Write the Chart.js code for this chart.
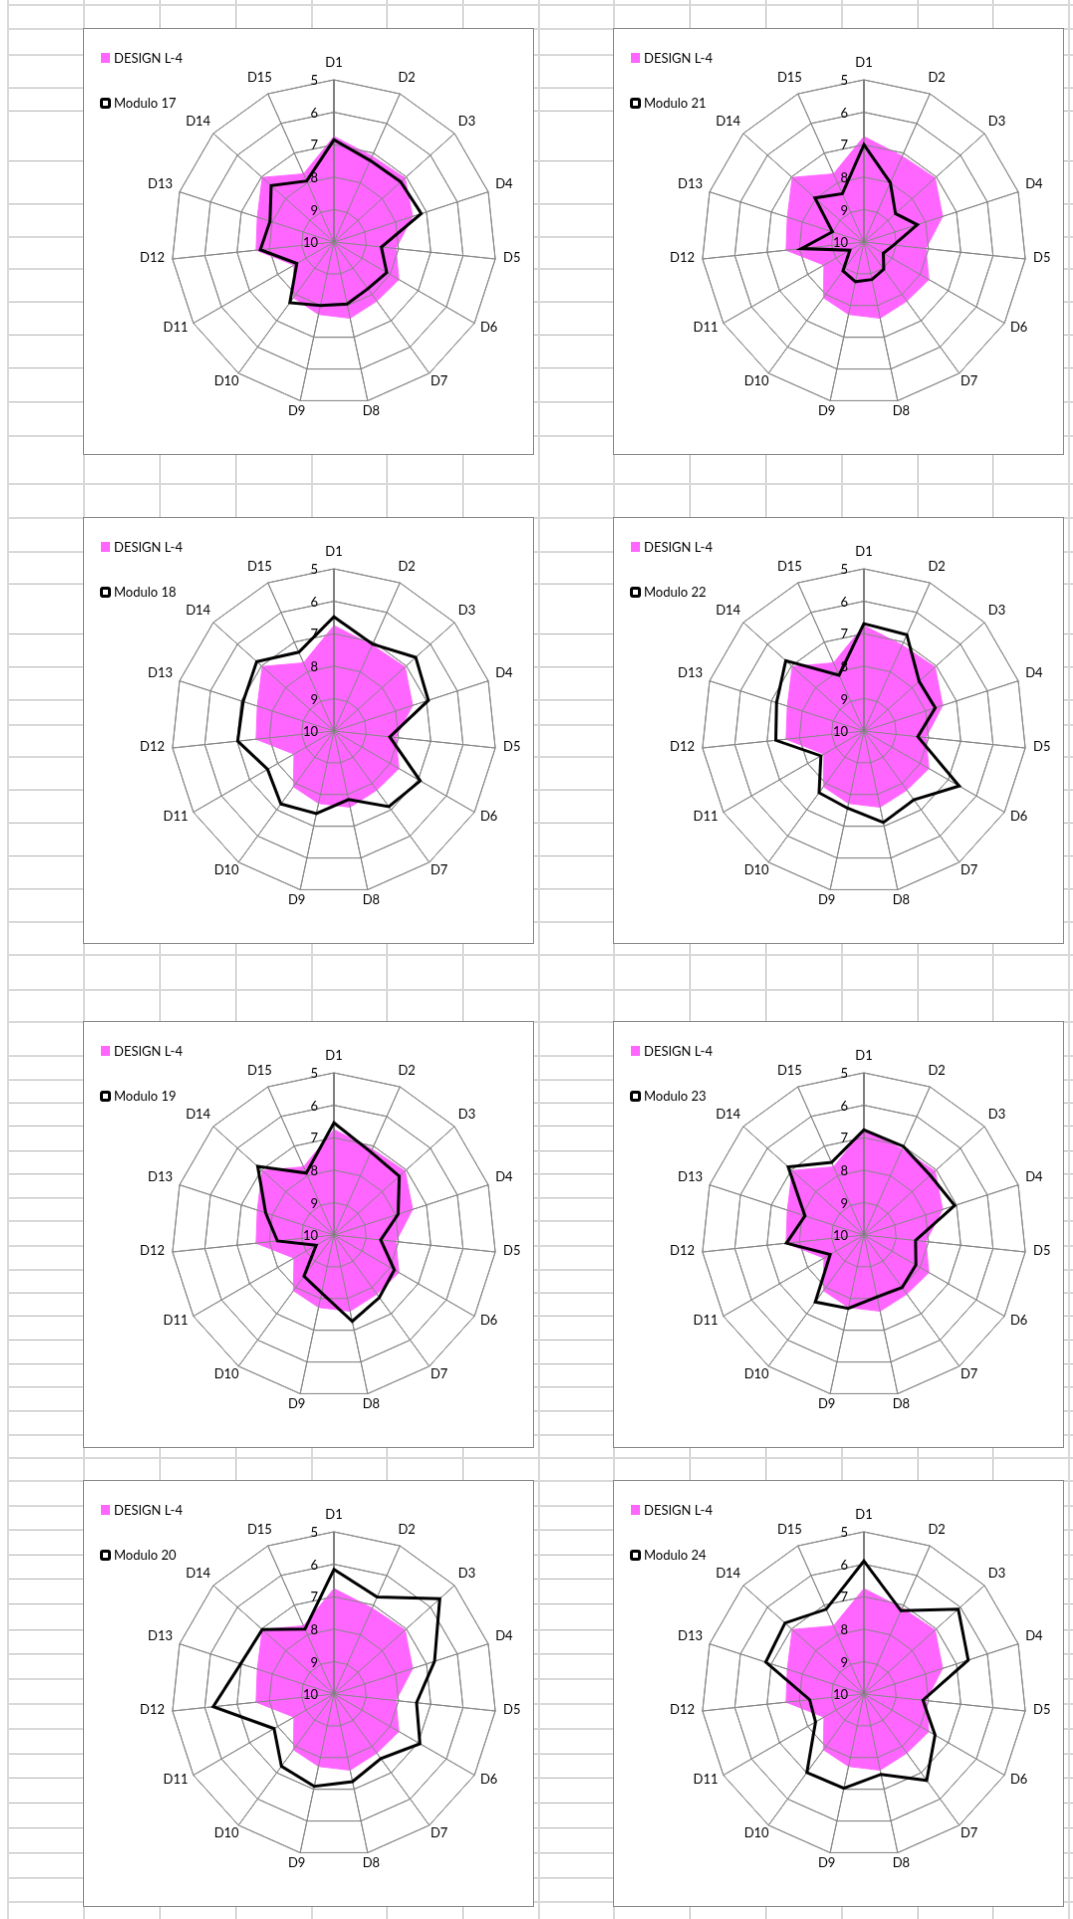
<!DOCTYPE html>
<html>
<head>
<meta charset="utf-8">
<script src="https://cdn.jsdelivr.net/npm/chart.js@4.4.1/dist/chart.umd.min.js"></script>
<style>
  html, body { margin: 0; padding: 0; background: #fff; }
  body { width: 1073px; height: 1919px; position: relative; overflow: hidden; }
  #sheet { position: absolute; left: 0; top: 0; }
  .panel { position: absolute; background: #fff; border: 1px solid #888; }
</style>
</head>
<body>
<canvas id="sheet" width="1073" height="1919"></canvas>
<script>
  /* ========================================================
     DATA (scale runs 5 at the rim down to 10 in the middle)
     ======================================================== */
  const categories = ['D1', 'D2', 'D3', 'D4', 'D5', 'D6', 'D7', 'D8', 'D9', 'D10', 'D11', 'D12', 'D13', 'D14', 'D15'];

  const designL4 = [6.75, 7.1, 7.05, 7.45, 8.08, 7.69, 7.75, 7.6, 7.72, 7.88, 8.58, 7.59, 7.52, 7.03, 7.7];

  const modulo17 = [6.85, 7.25, 7.23, 7.17, 8.53, 8.12, 8.22, 8.05, 8.0, 7.69, 8.68, 7.72, 7.93, 7.4, 7.94];
  const modulo18 = [6.48, 7.07, 6.61, 6.94, 8.27, 6.93, 7.12, 7.84, 7.4, 7.22, 7.64, 7.02, 7.06, 6.8, 7.34];
  const modulo19 = [6.54, 7.2, 7.29, 7.92, 8.55, 7.85, 7.62, 7.28, 8.18, 8.43, 9.37, 8.25, 7.79, 6.84, 7.91];
  const modulo20 = [6.16, 6.73, 5.61, 6.74, 7.44, 6.94, 7.54, 7.24, 7.09, 7.25, 7.87, 6.26, 6.98, 7.03, 7.81];
  const modulo21 = [7.0, 8.0, 8.69, 8.27, 9.08, 9.31, 8.96, 8.82, 8.75, 8.9, 9.5, 8.06, 8.98, 7.97, 8.37];
  const modulo22 = [6.69, 6.75, 7.71, 7.69, 8.33, 6.61, 7.38, 7.12, 7.57, 7.65, 8.47, 7.27, 7.17, 6.76, 8.12];
  const modulo23 = [6.76, 7.01, 7.25, 7.06, 8.4, 8.15, 8.0, 8.05, 7.69, 7.45, 8.8, 7.6, 8.09, 6.86, 7.55];
  const modulo24 = [5.9, 7.19, 6.09, 6.62, 8.17, 7.47, 6.71, 7.47, 7.03, 7.01, 8.28, 8.32, 6.82, 6.73, 7.14];

  const moduloNames = ['Modulo 17', 'Modulo 18', 'Modulo 19', 'Modulo 20', 'Modulo 21', 'Modulo 22', 'Modulo 23', 'Modulo 24'];
  const moduloSeries = [modulo17, modulo18, modulo19, modulo20, modulo21, modulo22, modulo23, modulo24];

  const scaleMin = 5;
  const scaleMax = 10;

  /* ========================================================
     WORKSHEET LAYOUT
     ======================================================== */
  const panelLeft = [84, 614];
  const panelTop = [29, 518, 1022, 1481];
  const panelW = 451;
  const panelH = 427;

  const sheetCols = [8, 84, 160, 236, 312, 387, 463, 539, 614, 690, 766, 842, 918, 993, 1069];
  const sheetRows = [5, 29, 55, 88, 111, 161, 204, 237, 269, 302, 335, 368, 402, 436, 484, 518, 552, 584,
    634, 667, 700, 725, 757, 790, 823, 856, 889, 922, 955, 990, 1022, 1056, 1080, 1103, 1126, 1151,
    1174, 1198, 1221, 1246, 1270, 1293, 1316, 1340, 1364, 1387, 1411, 1435, 1458, 1481, 1506, 1530,
    1555, 1579, 1604, 1630, 1654, 1679, 1704, 1729, 1754, 1778, 1803, 1828, 1853, 1878, 1902];

  const FONT = "13px Lato, 'Open Sans', sans-serif";

  // spreadsheet gridlines behind the charts
  const sheet = document.getElementById('sheet').getContext('2d');
  sheet.strokeStyle = '#d9d9d9';
  sheet.lineWidth = 2;
  sheetCols.forEach(x => {
    sheet.beginPath();
    sheet.moveTo(x, 0);
    sheet.lineTo(x, 1919);
    sheet.stroke();
  });
  sheetRows.forEach(y => {
    sheet.beginPath();
    sheet.moveTo(8, y);
    sheet.lineTo(1073, y);
    sheet.stroke();
  });

  /* ========================================================
     PLUGIN: grid over the pink area, tick labels, axis labels, legend
     ======================================================== */
  const radarDecor = {
    id: 'radarDecor',
    beforeDatasetDraw(chart, args) {
      // redraw the web after the filled series so it shows through the pink
      if (args.index === 1) chart.scales.r.drawGrid();
    },
    afterDraw(chart) {
      const ctx = chart.ctx;
      const scale = chart.scales.r;
      const n = chart.data.labels.length;
      ctx.save();
      ctx.font = FONT;
      ctx.fillStyle = '#000';

      // value labels beside the D1 axis
      ctx.textAlign = 'right';
      ctx.textBaseline = 'middle';
      scale.ticks.forEach(t => {
        const y = scale.yCenter - scale.getDistanceFromCenterForValue(t.value);
        ctx.fillText(t.label, scale.xCenter - 16, y + 1);
      });

      // category labels round the rim
      ctx.textAlign = 'center';
      chart.data.labels.forEach((lbl, i) => {
        const a = (Math.PI * 2 * i) / n;
        const p = scale.getPointPosition(i, scale.drawingArea + 8);
        const w = ctx.measureText(lbl).width;
        const cx = p.x + Math.sin(a) * w / 2;
        const cy = p.y - Math.cos(a) * 6 - 3;
        ctx.fillText(lbl, cx, cy);
      });

      // legend, top left
      ctx.textAlign = 'left';
      ctx.fillStyle = chart.data.datasets[0].backgroundColor;
      ctx.fillRect(17, 24, 9, 10);
      ctx.fillStyle = '#000';
      ctx.fillText(chart.data.datasets[0].label, 30, 30);

      ctx.fillStyle = '#fff';
      ctx.strokeStyle = '#000';
      ctx.lineWidth = 3;
      ctx.beginPath();
      ctx.roundRect(17.5, 70.5, 8, 8, 1.5);
      ctx.fill();
      ctx.stroke();
      ctx.fillStyle = '#000';
      ctx.fillText(chart.data.datasets[1].label, 30, 75);
      ctx.restore();
    }
  };

  /* ========================================================
     BUILD THE EIGHT PANELS
     ======================================================== */
  moduloSeries.forEach((series, k) => {
    const col = Math.floor(k / 4);
    const row = k % 4;

    const cv = document.createElement('canvas');
    cv.className = 'panel';
    cv.width = panelW;
    cv.height = panelH;
    cv.style.left = (panelLeft[col] - 1) + 'px';
    cv.style.top = (panelTop[row] - 1) + 'px';
    document.body.appendChild(cv);

    new Chart(cv.getContext('2d'), {
      type: 'radar',
      data: {
        labels: categories,
        datasets: [
          {
            label: 'DESIGN L-4',
            data: designL4,
            fill: 'start',
            backgroundColor: '#ff66ff',
            borderColor: '#ff66ff',
            borderWidth: 1,
            pointRadius: 0,
            order: 2
          },
          {
            label: moduloNames[k],
            data: series,
            fill: false,
            borderColor: '#000000',
            borderWidth: 3,
            pointRadius: 0,
            order: 1
          }
        ]
      },
      options: {
        responsive: false,
        animation: false,
        devicePixelRatio: 1,
        layout: { padding: { left: 88, right: 36, top: 51, bottom: 49 } },
        elements: { line: { tension: 0, borderJoinStyle: 'miter' } },
        plugins: {
          legend: { display: false },
          tooltip: { enabled: false }
        },
        scales: {
          r: {
            min: scaleMin,
            max: scaleMax,
            reverse: true,
            ticks: { display: false, stepSize: 1 },
            pointLabels: { display: false },
            grid: { color: '#868686', lineWidth: 1 },
            angleLines: {
              color: c => (c.index === 0 ? '#777777' : '#868686'),
              lineWidth: c => (c.index === 0 ? 1.5 : 1)
            }
          }
        }
      },
      plugins: [radarDecor]
    });
  });
</script>
</body>
</html>
